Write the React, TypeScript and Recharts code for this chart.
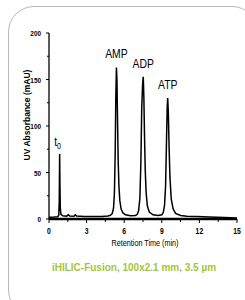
import { LineChart, Line, XAxis, YAxis } from 'recharts';

// chromatogram trace (min, mAU)
const times = [
  0.0, 0.4, 0.7, 0.78, 0.82, 0.85, 0.87, 0.9, 0.95, 1.1, 1.4, 1.55, 1.65, 2.0, 2.1, 2.2, 2.8, 3.5, 4.2, 4.7,
  4.9, 5.05, 5.15, 5.22, 5.28, 5.33, 5.38, 5.42, 5.47, 5.52, 5.58, 5.65, 5.75, 5.9, 6.1, 6.5, 6.9,
  7.05, 7.15, 7.25, 7.33, 7.4, 7.47, 7.52, 7.57, 7.62, 7.68, 7.75, 7.85, 8.0, 8.3, 8.7,
  9.0, 9.12, 9.22, 9.3, 9.37, 9.43, 9.47, 9.52, 9.58, 9.65, 9.75, 9.9, 10.1, 10.5, 11.0, 11.8, 12.8, 14, 15,
];
const absorbance = [
  2.0, 2.2, 2.5, 4, 20, 70, 40, 12, 5, 3.5, 3, 4.5, 3.2, 3.0, 4.5, 3.2, 2.8, 2.6, 2.8, 3.2,
  4, 6, 12, 28, 70, 130, 163, 150, 105, 62, 35, 20, 11, 6.5, 4.5, 3.5, 3.8,
  5, 9, 22, 60, 120, 145, 153, 130, 90, 52, 28, 14, 7.5, 4.5, 3.8,
  4.5, 7, 15, 35, 80, 120, 130, 115, 78, 45, 22, 11, 6, 3.8, 3, 2.6, 2.2, 1.5, 1.2,
];
const peakNames = ['t0', 'AMP', 'ADP', 'ATP'];
const peakTimes = [0.85, 5.38, 7.52, 9.47];

const xTicks = [0, 1.5, 3, 4.5, 6, 7.5, 9, 10.5, 12, 13.5, 15];
const yTicks = [0, 25, 50, 75, 100, 125, 150, 175, 200];

const data = times.map((t, i) => ({
  t,
  v: absorbance[i],
  peak: peakNames[peakTimes.indexOf(t)],
}));

const sans = "Arial, 'Liberation Sans', sans-serif";
const SQUEEZE = 0.8; // the original uses a condensed face

const XTick = (props: any) => {
  const { x, y, payload } = props;
  const major = payload.value % 3 === 0;
  return (
    <g>
      <line x1={x} x2={x} y1={y} y2={y + (major ? 4 : 3)} stroke="#000" strokeWidth={1} />
      {major && (
        <text transform={`translate(${x},${y + 15}) scale(${SQUEEZE},1)`} textAnchor="middle" fontSize={8.5} fontWeight="bold" fontFamily={sans} fill="#000">
          {payload.value}
        </text>
      )}
    </g>
  );
};

const YTick = (props: any) => {
  const { x, y, payload } = props;
  const major = payload.value % 50 === 0;
  return (
    <g>
      <line x1={x} x2={x - (major ? 3 : 2)} y1={y} y2={y} stroke="#000" strokeWidth={1} />
      {major && (
        <text transform={`translate(${x - 8},${y + 3}) scale(${SQUEEZE},1)`} textAnchor="end" fontSize={8} fontWeight="bold" fontFamily={sans} fill="#000">
          {payload.value}
        </text>
      )}
    </g>
  );
};

const PeakLabel = (props: any) => {
  const { x, y, index } = props;
  const name = data[index].peak;
  if (!name) return null;
  if (name === 't0') {
    return (
      <text transform={`translate(${x - 2},${y - 8}) scale(${SQUEEZE},1)`} textAnchor="middle" fontSize={13} fontFamily={sans} fill="#000">
        t<tspan dy={3} fontSize={9}>0</tspan>
      </text>
    );
  }
  return (
    <text transform={`translate(${x},${y - 9}) scale(${SQUEEZE},1)`} textAnchor="middle" fontSize={13} fontFamily={sans} fill="#000">
      {name}
    </text>
  );
};

export default function App() {
  return (
    <div style={{ position: 'fixed', left: 0, top: 0, width: 245, height: 300, background: '#fff', overflow: 'hidden' }}>
      <div
        style={{
          position: 'absolute', left: 8, top: 6, width: 250, height: 310,
          border: '1px solid #b8b8b8', borderRadius: 26, boxSizing: 'border-box',
        }}
      />
      <div style={{ position: 'absolute', left: 0, top: 0 }}>
        <LineChart width={245} height={300} data={data} margin={{ top: 33, right: 8, left: 19, bottom: 51 }}>
          <XAxis
            dataKey="t" type="number" domain={[0, 15]} ticks={xTicks} interval={0}
            tick={<XTick />} tickSize={0} tickMargin={0} tickLine={false}
            axisLine={{ stroke: '#000', strokeWidth: 2.5 }} height={30}
          />
          <YAxis
            type="number" domain={[0, 200]} ticks={yTicks} interval={0}
            tick={<YTick />} tickSize={0} tickMargin={0} tickLine={false}
            axisLine={{ stroke: '#000', strokeWidth: 1.3 }} width={30}
          />
          <Line
            dataKey="v" type="linear" stroke="#000" strokeWidth={1.5} dot={false}
            isAnimationActive={false} label={<PeakLabel />}
          />
        </LineChart>
      </div>
      <div
        style={{
          position: 'absolute', left: 27, top: 115, transform: 'translate(-50%, -50%) rotate(-90deg)',
          fontFamily: sans, fontWeight: 'bold', fontSize: 8.5, whiteSpace: 'nowrap', color: '#000',
        }}
      >
        UV Absorbance (mAU)
      </div>
      <div
        style={{
          position: 'absolute', left: 145, top: 243, transform: `translate(-50%, -50%) scaleX(${SQUEEZE})`,
          fontFamily: sans, fontSize: 9, whiteSpace: 'nowrap', color: '#000',
        }}
      >
        Retention Time (min)
      </div>
      <div
        style={{
          position: 'absolute', left: 134, top: 267, transform: 'translate(-50%, -50%)',
          fontFamily: sans, fontWeight: 'bold', fontSize: 10, whiteSpace: 'nowrap', color: '#a6c43a',
        }}
      >
        iHILIC-Fusion, 100x2.1 mm, 3.5 µm
      </div>
    </div>
  );
}
